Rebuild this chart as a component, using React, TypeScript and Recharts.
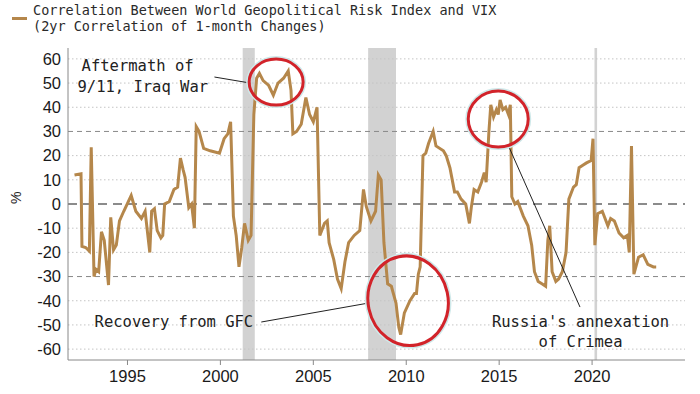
import React from 'react';
import {LineChart, Line, XAxis, YAxis, ReferenceLine, ReferenceArea, ReferenceDot} from 'recharts';

// monthly-ish readings of the 2yr rolling correlation (%)
const dates = [
  1992.15, 1992.5, 1992.55, 1992.75, 1992.95, 1993.05, 1993.2, 1993.3, 1993.45, 1993.6,
  1993.75, 1993.98, 1994.1, 1994.25, 1994.4, 1994.57, 1994.8, 1995.2, 1995.45, 1995.75,
  1995.95, 1996.2, 1996.3, 1996.45, 1996.6, 1996.8, 1996.9, 1997.0, 1997.25, 1997.5,
  1997.7, 1997.85, 1998.0, 1998.1, 1998.3, 1998.45, 1998.6, 1998.7, 1998.85, 1999.1,
  1999.45, 1999.95, 2000.2, 2000.4, 2000.55, 2000.7, 2000.85, 2001.0, 2001.15, 2001.3,
  2001.5, 2001.65, 2001.8, 2001.95, 2002.1, 2002.3, 2002.6, 2002.85, 2003.1, 2003.4,
  2003.65, 2003.8, 2003.9, 2004.1, 2004.35, 2004.6, 2004.8, 2005.0, 2005.2, 2005.35,
  2005.6, 2005.75, 2005.85, 2006.1, 2006.3, 2006.5, 2006.7, 2006.9, 2007.2, 2007.5,
  2007.7, 2007.85, 2008.1, 2008.35, 2008.5, 2008.65, 2008.8, 2009.0, 2009.2, 2009.45,
  2009.6, 2009.7, 2009.9, 2010.2, 2010.45, 2010.55, 2010.65, 2010.75, 2010.9, 2011.05,
  2011.2, 2011.45, 2011.6, 2012.0, 2012.15, 2012.35, 2012.6, 2012.75, 2012.95, 2013.2,
  2013.4, 2013.5, 2013.65, 2013.85, 2014.05, 2014.2, 2014.3, 2014.45, 2014.55, 2014.7,
  2014.85, 2014.95, 2015.05, 2015.2, 2015.35, 2015.5, 2015.6, 2015.68, 2015.85, 2016.0,
  2016.3, 2016.55, 2016.75, 2016.9, 2017.1, 2017.3, 2017.5, 2017.62, 2017.72, 2017.85,
  2018.05, 2018.2, 2018.4, 2018.6, 2018.75, 2019.0, 2019.15, 2019.3, 2019.5, 2019.7,
  2019.95, 2020.05, 2020.15, 2020.3, 2020.55, 2020.85, 2021.0, 2021.2, 2021.45, 2021.7,
  2021.9, 2022.0, 2022.12, 2022.25, 2022.5, 2022.75, 2023.0, 2023.3, 2023.45,
];
const corr = [
  12, 12.5, -17.5, -18, -19.5, 23.5, -30, -27, -28, -11.5,
  -15, -33.5, -5.5, -19, -17, -7, -3, 3.5, -3, -6,
  -3, -20, -3, -2, -11, -14, -13, 0, 1, 6,
  7, 19, 14, 11, -1.5, 0, -10, 32, 30, 23,
  22, 21, 27, 29, 34, -5, -13, -26, -18, -8,
  -15, -13, 37, 52, 54, 51, 49, 45, 50, 52,
  55, 47, 29, 30, 33, 44, 37, 34, 40, -13,
  -8, -7, -16, -23, -31, -35, -24, -16, -13, -11,
  6, -1, -7, -3, 12, 10, -16, -33, -34, -41,
  -51, -54, -45, -40, -37, -37, -29, -26, 20, 21,
  25, 30, 24, 22, 20, 15, 5, 5, 2, 0,
  -8, -1.5, 6, 5, 9, 13, 9, 30, 41, 36,
  39, 37, 43, 39, 40, 37, 41, 3, 0, 1,
  -5, -9, -17, -28, -32, -33, -34, -15, -9, -28,
  -32, -31, -28, -20, 2, 7, 8, 15, 16, 17,
  18, 27, -17, -4, -3, -9, -6, -7, -12, -14,
  -13, -20, 24, -29, -22, -21, -25, -26, -26,
];

const yTicks = [-60, -50, -40, -30, -20, -10, 0, 10, 20, 30, 40, 50, 60];
const xTicks = [1995, 2000, 2005, 2010, 2015, 2020];

// recessions (US)
const recessions = [
  [2001.2, 2001.85],
  [2007.95, 2009.45],
  [2020.13, 2020.27],
];

const data = dates.map((t, i) => ({t, v: corr[i]}));

const LINE = '#b5874b';
const RED = '#d2232a';
const MONO = '"DejaVu Sans Mono", "Liberation Mono", monospace';
const SANS = '"Liberation Sans", Arial, sans-serif';

const gridStyle = (y: number) => {
  if (y === 0) return {stroke: '#666', strokeDasharray: '9 6', strokeWidth: 1.6};
  if (Math.abs(y) === 30) return {stroke: '#888', strokeDasharray: '5 4', strokeWidth: 1};
  return {stroke: '#c4c4c4', strokeDasharray: '1.5 2.5', strokeWidth: 1};
};

const ellipse = (rx: number, ry: number, rot: number) => (props: any) => (
  <g>
    <ellipse cx={props.cx} cy={props.cy} rx={rx + 2} ry={ry + 2} fill="none" stroke="#cfe9ea" strokeWidth={2}
      transform={`rotate(${rot} ${props.cx} ${props.cy})`} />
    <ellipse cx={props.cx} cy={props.cy} rx={rx} ry={ry} fill="none" stroke={RED} strokeWidth={3}
      transform={`rotate(${rot} ${props.cx} ${props.cy})`} />
  </g>
);

const label = (text: string, anchor: 'start' | 'middle') => (props: any) => (
  <text x={props.cx} y={props.cy} textAnchor={anchor} dominantBaseline="central"
    fontFamily={MONO} fontSize={15.5} fill="#222">{text}</text>
);

const App: React.FC = () => {
  return (
    <div style={{position: 'absolute', left: 0, top: 0, width: 700, height: 394, background: '#fff'}}>
      <div style={{position: 'absolute', left: 12, top: 17, width: 15, height: 3, background: LINE}} />
      <div style={{position: 'absolute', left: 33, top: 2, fontFamily: MONO, fontSize: 13.5, color: '#2a2a2a', lineHeight: '16px'}}>
        Correlation Between World Geopolitical Risk Index and VIX<br />
        (2yr Correlation of 1-month Changes)
      </div>
      <LineChart width={700} height={394} data={data} margin={{top: 48, right: 15, bottom: 0, left: 0}}>
        {recessions.map(([a, b], i) => (
          <ReferenceArea key={'r' + i} x1={a} x2={b} fill="#d2d2d2" fillOpacity={1} stroke="none" />
        ))}
        {yTicks.map((y) => (
          <ReferenceLine key={'g' + y} y={y} {...gridStyle(y)} />
        ))}
        <XAxis dataKey="t" type="number" domain={[1991.8, 2025]} ticks={xTicks} allowDataOverflow interval={0}
          height={34} tickSize={5} tickMargin={5} stroke="#888"
          tick={{fill: '#1a1a1a', fontSize: 16.5, fontFamily: SANS}} />
        <YAxis type="number" domain={[-64.5, 64.5]} ticks={yTicks} allowDataOverflow width={68} interval={0}
          tickLine={false} tickMargin={1} stroke="#888"
          tick={{fill: '#1a1a1a', fontSize: 16.5, fontFamily: SANS}}
          label={{value: '%', angle: -90, position: 'insideLeft', offset: 16, fill: '#222', fontSize: 14, fontFamily: SANS}} />
        <Line type="linear" dataKey="v" stroke={LINE} strokeWidth={3} dot={false} isAnimationActive={false} />

        <ReferenceLine segment={[{x: 1999.68, y: 52.5}, {x: 2001.61, y: 50}]} stroke="#222" strokeWidth={1} />
        <ReferenceLine segment={[{x: 2002.2, y: -48.8}, {x: 2008.01, y: -40.9}]} stroke="#222" strokeWidth={1} />
        <ReferenceLine segment={[{x: 2015.48, y: 24.4}, {x: 2019.35, y: -42.6}]} stroke="#222" strokeWidth={1} />

        <ReferenceDot x={2003.0} y={50.4} r={1} shape={ellipse(27, 23, 0)} />
        <ReferenceDot x={2010.1} y={-40} r={1} shape={ellipse(40, 45, -12)} />
        <ReferenceDot x={2014.95} y={35.1} r={1} shape={ellipse(30, 28, 0)} />

        <ReferenceDot x={1992.53} y={57} r={1} shape={label('Aftermath of', 'start')} />
        <ReferenceDot x={1992.31} y={48.3} r={1} shape={label('9/11, Iraq War', 'start')} />
        <ReferenceDot x={1993.23} y={-48.8} r={1} shape={label('Recovery from GFC', 'start')} />
        <ReferenceDot x={2019.38} y={-48.8} r={1} shape={label("Russia's annexation", 'middle')} />
        <ReferenceDot x={2019.38} y={-57} r={1} shape={label('of Crimea', 'middle')} />
      </LineChart>
    </div>
  );
};

export default App;
